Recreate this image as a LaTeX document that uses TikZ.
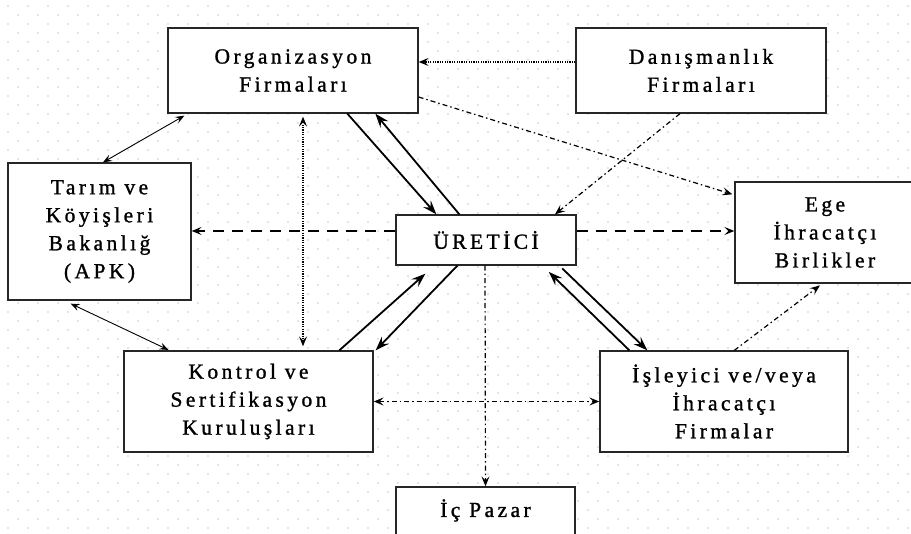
\documentclass[tikz,border=0pt]{standalone}
\usepackage{fontspec}
\setmainfont{Liberation Serif}[LetterSpace=16,FakeBold=1.2]
\usetikzlibrary{arrows.meta,calc}
\begin{document}
\begin{tikzpicture}[x=1pt,y=-1pt,
  box/.style={draw=black!85,line width=1.3pt,fill=white,align=center,inner sep=0pt,
    font=\fontsize{21.5}{28}\selectfont},
  thin/.style={line width=0.9pt,{Stealth[length=9pt,width=7pt,inset=3.5pt]}-{Stealth[length=9pt,width=7pt,inset=3.5pt]}},
  thick/.style={line width=1.8pt,-{Stealth[length=14pt,width=10pt,inset=5pt]}},
  dashedline/.style={line width=1.1pt,dash pattern=on 11pt off 8pt,-{Stealth[length=10pt,width=8pt,inset=4pt]}},
  dotline/.style={line width=1.1pt,dash pattern=on 1.2pt off 1.2pt},
  dashdot/.style={line width=1.2pt,dash pattern=on 5pt off 3pt on 1.5pt off 3pt},
  tip/.style={-{Stealth[length=10pt,width=8pt,inset=4pt]}},
  tips/.style={{Stealth[length=10pt,width=8pt,inset=4pt]}-{Stealth[length=10pt,width=8pt,inset=4pt]}}]
\useasboundingbox (0,0) rectangle (911,534);
\clip (0,0) rectangle (911,534);
\fill[white] (0,0) rectangle (911,534);
% background dot pattern
\foreach \j in {0,...,59}{
  \pgfmathsetmacro\off{mod(\j,2)*10}
  \foreach \i in {0,...,45}{
    \fill[black!20] (\i*20+\off+8,\j*9+6) circle (0.8pt);
  }
}
% nodes
\node[box,minimum width=250,minimum height=85] (org) at (293,70.5) {Organizasyon\\Firmaları};
\node[box,minimum width=250,minimum height=85] (dan) at (701,70.5) {Danışmanlık\\Firmaları};
\node[box,minimum width=183,minimum height=137] (tar) at (99.5,231.5) {Tarım ve\\Köyişleri\\Bakanlığ\\(APK)};
\node[box,minimum width=180,minimum height=50] (ure) at (486,240) {ÜRETİCİ};
\node[box,minimum width=180,minimum height=101] (ege) at (825,232.5) {Ege\\İhracatçı\\Birlikler};
\node[box,minimum width=249,minimum height=101] (kon) at (248.5,401.5) {Kontrol ve\\Sertifikasyon\\Kuruluşları};
\node[box,minimum width=248,minimum height=101] (isl) at (724,401.5) {İşleyici ve/veya\\İhracatçı\\Firmalar};
\node[box,minimum width=179,minimum height=60] (paz) at (485.5,517) {};
\node[font=\fontsize{21.5}{28}\selectfont,anchor=base] (pazt) at (485.5,517) {İç Pazar};
% connectors
\draw[dotline,tip] ($(dan.west)+(0,-8.5)$) -- ($(org.east)+(0,-8.5)$);
\draw[dashdot,tip] ($(org.east)+(0,26.5)$) -- ($(ege.north west)+(-2,13)$);
\draw[dashdot,tip] ($(dan.south)+(-21,0)$) -- ($(ure.north)+(69,0)$);
\draw[thin] ($(org.south west)+(17,2)$) -- ($(tar.north)+(3.5,0)$);
\draw[dotline,tips,shorten <=3pt,shorten >=4pt] ($(org.south)+(10,0)$) -- ($(kon.north)+(54.5,0)$);
\draw[thick] ($(org.south west)+(180,0)$) -- ($(ure.north west)+(41,0)$);
\draw[thick] ($(ure.north west)+(64,0)$) -- ($(org.south west)+(208,0)$);
\draw[dashedline] ($(ure.west)+(0,-9)$) -- ($(tar.east)+(0,-0.5)$);
\draw[dashedline] ($(ure.east)+(0,-9)$) -- ($(ege.west)+(0,-1.5)$);
\draw[thin,shorten <=7pt,shorten >=1pt] ($(tar.south west)+(57,0)$) -- ($(kon.north west)+(46,0)$);
\draw[thick,shorten >=12pt] ($(kon.north west)+(216,0)$) -- ($(ure.south west)+(39,0)$);
\draw[thick] ($(ure.south west)+(62,0)$) -- ($(kon.north east)+(2,0)$);
\draw[thick,shorten >=9pt] ($(isl.north west)+(30,0)$) -- ($(ure.south west)+(147,0)$);
\draw[thick,shorten <=4pt] ($(ure.south west)+(164,0)$) -- ($(isl.north west)+(48,0)$);
\draw[dashdot,tip] ($(ure.south)+(-1,0)$) -- (paz.north);
\draw[dashdot,tip,shorten >=3pt] ($(isl.north west)+(135,0)$) -- ($(ege.south west)+(88,0)$);
\draw[dashdot,tips] (kon.east) -- (isl.west);
\end{tikzpicture}
\end{document}
